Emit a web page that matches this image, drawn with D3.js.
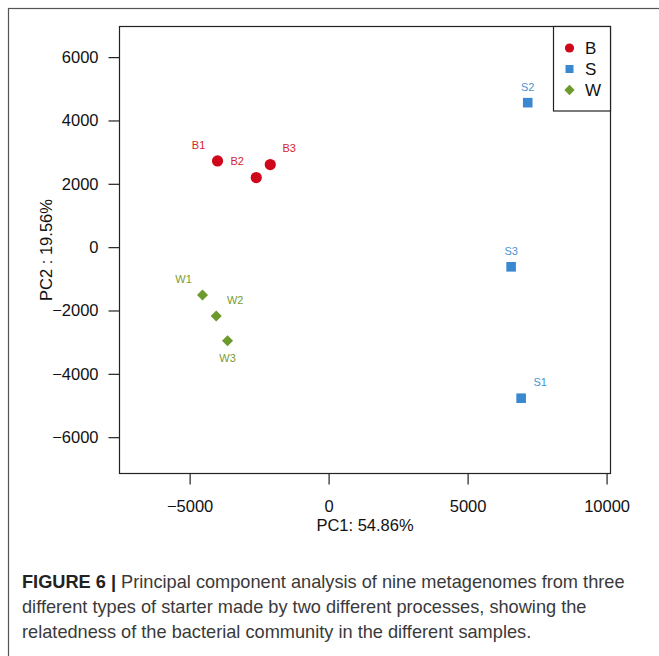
<!DOCTYPE html>
<html>
<head>
<meta charset="utf-8">
<script src="https://cdn.jsdelivr.net/npm/d3@7"></script>
<style>
  html, body { margin: 0; padding: 0; background: #fff; }
  svg { display: block; }
  text { font-family: "Liberation Sans", Arial, sans-serif; }
</style>
</head>
<body>
<svg id="chart" width="659" height="656"></svg>
<script>
// --- Data ---
const groups = ["B", "S", "W"];
const sampleNames = ["B1", "B2", "B3", "S1", "S2", "S3", "W1", "W2", "W3"];
const sampleGroup = ["B", "B", "B", "S", "S", "S", "W", "W", "W"];
const pc1Values = [-3996, -2603, -2099, 6926, 7163, 6566, -4536, -4043, -3636];
const pc2Values = [2721, 2197, 2607, -4770, 4562, -621, -1513, -2175, -2954];
// label placement around each point: tl, tr, t, b
const labelPlace = ["tl", "tl", "tr", "tr", "t", "t", "tl", "tr", "b"];
const xTicks = [-5000, 0, 5000, 10000];
const yTicks = [-6000, -4000, -2000, 0, 2000, 4000, 6000];
const xTitle = "PC1: 54.86%";
const yTitle = "PC2 : 19.56%";
const captionLines = [
    "Principal component analysis of nine metagenomes from three",
    "different types of starter made by two different processes, showing the",
    "relatedness of the bacterial community in the different samples.",
];

const groupColor = { B: "#d0061a", S: "#3b88d2", W: "#6c9a2c" };
const labelColor = { B: "#d3232f", S: "#4a93d4", W: "#789c36" };

const svg = d3.select("#chart");

// outer figure frame
svg.append("rect")
    .attr("x", 8.5).attr("y", 8.5)
    .attr("width", 700).attr("height", 700)
    .attr("fill", "none")
    .attr("stroke", "#555")
    .attr("stroke-width", 1.2);

// --- Scales ---
const plot = { left: 119.5, right: 610.5, top: 26.5, bottom: 473.5 };

const x = d3.scaleLinear()
    .domain([-7523, 10141])
    .range([plot.left, plot.right]);

const y = d3.scaleLinear()
    .domain([-7147, 6967])
    .range([plot.bottom, plot.top]);

// --- Axes ---
const xAxis = svg.append("g")
    .attr("transform", `translate(0,${plot.bottom})`)
    .call(d3.axisBottom(x).tickValues(xTicks).tickSize(11).tickPadding(16)
        .tickFormat(d => d3.format("d")(d).replace("-", "\u2212")));

const yAxis = svg.append("g")
    .attr("transform", `translate(${plot.left},0)`)
    .call(d3.axisLeft(y).tickValues(yTicks).tickSize(11).tickPadding(10)
        .tickFormat(d => d3.format("d")(d).replace("-", "\u2212")));

[xAxis, yAxis].forEach(a => {
    a.select(".domain").remove();
    a.selectAll(".tick line").attr("stroke", "#222").attr("stroke-width", 1.2);
    a.selectAll(".tick text")
        .attr("fill", "#111")
        .style("font-size", "16.5px")
        .style("font-family", "'Liberation Sans', Arial, sans-serif");
});

// plot box
svg.append("rect")
    .attr("x", plot.left).attr("y", plot.top)
    .attr("width", plot.right - plot.left)
    .attr("height", plot.bottom - plot.top)
    .attr("fill", "none")
    .attr("stroke", "#222")
    .attr("stroke-width", 1.2);

// axis titles
svg.append("text")
    .attr("x", (plot.left + plot.right) / 2)
    .attr("y", 531)
    .attr("text-anchor", "middle")
    .attr("fill", "#111")
    .style("font-size", "16.5px")
    .text(xTitle);

svg.append("text")
    .attr("transform", `translate(52,${(plot.top + plot.bottom) / 2}) rotate(-90)`)
    .attr("text-anchor", "middle")
    .attr("fill", "#111")
    .style("font-size", "16.5px")
    .text(yTitle);

// --- Markers ---
const symbolFor = {
    B: d3.symbol().type(d3.symbolCircle).size(Math.PI * 5.6 * 5.6),
    S: d3.symbol().type(d3.symbolSquare).size(9.6 * 9.6),
    W: d3.symbol().type(d3.symbolDiamond2).size(8.8 * 8.8),
};

const samples = sampleNames.map((name, i) => ({
    name,
    group: sampleGroup[i],
    pc1: pc1Values[i],
    pc2: pc2Values[i],
    place: labelPlace[i],
}));

svg.append("g")
    .selectAll("path")
    .data(samples)
    .join("path")
    .attr("d", d => symbolFor[d.group]())
    .attr("transform", d => `translate(${x(d.pc1)},${y(d.pc2)})`)
    .attr("fill", d => groupColor[d.group]);

const offsets = { tl: [-19, -16], tr: [19, -16], t: [0, -16], b: [0, 17] };

svg.append("g")
    .selectAll("text")
    .data(samples)
    .join("text")
    .attr("x", d => x(d.pc1) + offsets[d.place][0])
    .attr("y", d => y(d.pc2) + offsets[d.place][1])
    .attr("dy", "0.35em")
    .attr("text-anchor", "middle")
    .attr("fill", d => labelColor[d.group])
    .style("font-size", "11px")
    .text(d => d.name);

// --- Legend ---
const legend = svg.append("g");
legend.append("rect")
    .attr("x", 553.5).attr("y", plot.top)
    .attr("width", plot.right - 553.5)
    .attr("height", 111 - plot.top)
    .attr("fill", "#fff")
    .attr("stroke", "#222")
    .attr("stroke-width", 1.2);

const legendSymbol = {
    B: d3.symbol().type(d3.symbolCircle).size(Math.PI * 4.6 * 4.6),
    S: d3.symbol().type(d3.symbolSquare).size(8 * 8),
    W: d3.symbol().type(d3.symbolDiamond2).size(8.2 * 8.2),
};

const legendRow = d3.scalePoint().domain(groups).range([48, 90]);

legend.selectAll("path")
    .data(groups)
    .join("path")
    .attr("d", g => legendSymbol[g]())
    .attr("transform", g => `translate(569.5,${legendRow(g)})`)
    .attr("fill", g => groupColor[g]);

legend.selectAll("text")
    .data(groups)
    .join("text")
    .attr("x", 585)
    .attr("y", g => legendRow(g))
    .attr("dy", "0.36em")
    .attr("fill", "#111")
    .style("font-size", "17px")
    .text(g => g);

// --- Caption ---
const caption = svg.append("g")
    .attr("fill", "#3a3a3a")
    .style("font-family", "'Liberation Sans', Arial, sans-serif")
    .style("font-size", "18.2px");

const line1 = caption.append("text").attr("x", 22).attr("y", 588);
line1.append("tspan").attr("font-weight", "bold").attr("fill", "#222").text("FIGURE 6 | ");
line1.append("tspan").text(captionLines[0]);

caption.append("text").attr("x", 22).attr("y", 613).text(captionLines[1]);
caption.append("text").attr("x", 22).attr("y", 638).text(captionLines[2]);
</script>
</body>
</html>
